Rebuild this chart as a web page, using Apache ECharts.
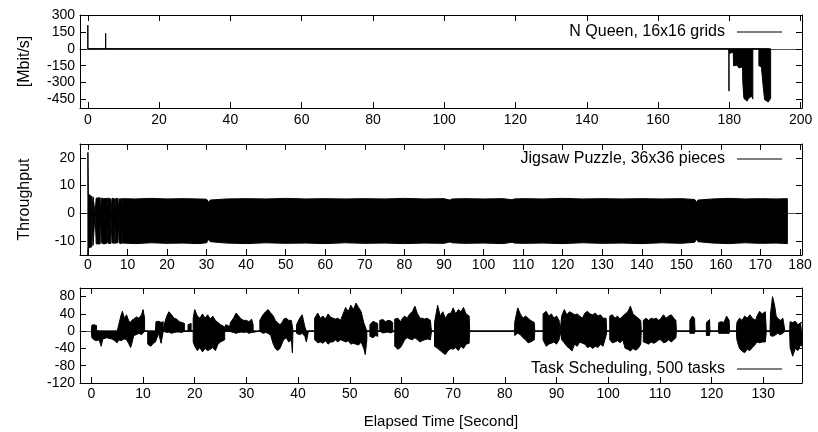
<!DOCTYPE html>
<html>
<head>
<meta charset="utf-8">
<script src="https://cdn.jsdelivr.net/npm/echarts@6/dist/echarts.min.js"></script>
<style>
  html, body { margin: 0; padding: 0; background: #fff; }
  #chart { width: 818px; height: 432px; }
</style>
</head>
<body>
<div id="chart"></div>
<script>
// envelope of each trace: [time (s), upper value, lower value]
var nQueenEnv = [
  [0, 0, 0], [0, 210, 0], [0, 0, 0],
  [5, 0, 0], [5, 137, 0], [5, 0, 0],
  [179.9, 0, 0], [179.9, 0, -375], [179.9, 0, 0],
  [180.1, 0, 0], [180.1, 0, -40], [180.6, 0, -55], [181.1, 0, -30],
  [181.2, 0, -150], [181.7, 0, -165], [182.2, 0, -145], [182.7, 0, -170], [183.2, 0, -175], [183.7, 0, -160],
  [183.8, 0, -300], [184.1, 0, -440], [184.6, 0, -455], [185.0, 0, -464], [185.4, 0, -440], [185.9, 0, -430],
  [186.3, 0, -420], [186.6, 0, -445], [186.6, 0, 0],
  [188.3, 0, 0], [188.3, 0, -150], [188.7, 0, -165], [189.0, 0, -160], [189.3, 0, -175],
  [189.5, 0, -330], [189.9, 0, -450], [190.4, 0, -465], [190.9, 0, -472], [191.3, 0, -460], [191.6, 0, -440], [191.6, 0, 0]
];

var jigsawEnv = [
  [0, 0, 0], [0, 22, -15], [0.1, 7, -12.5], [0.5, 6.5, -13], [1.0, 6, -12], [1.0, 0, 0],
  [1.3, 0, 0], [1.3, 6, -11.5], [1.8, 5.5, -11], [1.8, 0, 0],
  [2.1, 0, 0], [2.1, 5.5, -11], [2.6, 5.3, -10.8], [3.1, 5.6, -11], [3.1, 0, 0],
  [3.4, 0, 0], [3.4, 5.5, -10.6], [4.0, 5.3, -11], [4.7, 5.4, -10.8], [4.7, 0, 0],
  [5.0, 0, 0], [5.0, 5.5, -10.7], [5.8, 5.2, -10.9], [5.8, 0, 0],
  [6.1, 0, 0], [6.1, 5.4, -10.6], [6.7, 5.3, -10.8], [6.7, 0, 0],
  [7.0, 0, 0], [7.0, 5.3, -10.8], [7.6, 5.4, -10.5], [7.6, 0, 0],
  [7.9, 0, 0], [7.9, 5.2, -10.7], [8.5, 5.3, -10.9], [8.5, 0, 0],
  [8.7, 0, 0], [8.7, 5.3, -10.7], [12, 5.2, -10.9], [16, 5.4, -10.6], [20, 5.2, -10.8], [24, 5.3, -10.7], [28, 5.2, -10.9],
  [30.0, 5.1, -10.6], [30.5, 4.0, -9.3], [30.9, 4.8, -10.2], [31.2, 5.3, -10.8],
  [35, 5.2, -10.7], [40, 5.3, -10.9], [45, 5.2, -10.6], [50, 5.4, -10.8], [55, 5.2, -10.7], [60, 5.3, -10.9],
  [65, 5.2, -10.6], [70, 5.3, -10.8], [75, 5.2, -10.7], [80, 5.4, -10.9], [85, 5.2, -10.7], [90, 5.3, -10.8],
  [91.5, 4.8, -10.3], [91.8, 4.4, -9.8], [92.1, 5.2, -10.6],
  [95, 5.3, -10.8], [100, 5.2, -10.7], [105, 5.3, -10.9],
  [107.2, 4.9, -10.4], [107.5, 4.5, -10], [107.8, 5.2, -10.7],
  [110, 5.3, -10.8], [115, 5.2, -10.7], [120, 5.4, -10.9], [125, 5.2, -10.6], [130, 5.3, -10.8], [135, 5.2, -10.7],
  [140, 5.3, -10.9], [145, 5.2, -10.6], [150, 5.3, -10.8],
  [153.4, 5.0, -10.4], [153.8, 4.0, -9.3], [154.2, 4.8, -10.2], [154.6, 5.3, -10.8],
  [158, 5.2, -10.7], [162, 5.4, -10.9], [166, 5.2, -10.6], [170, 5.3, -10.8], [174, 5.2, -10.7], [176.8, 5.3, -10.9], [176.8, 0, 0]
];

var taskEnv = [
  [0, 0, 0],
  [0.1, 0, 0], [0.1, 14, -15], [0.5, 15, -20], [1.0, 13, -22],
  [1.0, 2, -22], [1.5, 0, -20], [1.9, 0, -35], [2.2, 0, -18], [3.0, 0, -15], [3.5, 0, -17], [4.0, 0, -18], [4.5, 0, -22], [5.0, 0, -27],
  [5.3, 15, -20], [5.7, 35, -22], [6.0, 46, -20], [6.4, 30, -18], [6.8, 38, -20], [7.2, 25, -28], [7.6, 20, -38],
  [7.8, 25, -30], [8.2, 28, -10], [8.7, 33, -8], [9.2, 30, -5], [9.7, 38, -8], [10.0, 50, -5], [10.3, 30, 0], [10.3, 0, 0],
  [10.9, 0, 0], [10.9, 0, -30], [11.5, 0, -35], [12.0, 0, -28], [12.4, 0, -25],
  [12.5, 22, -25], [13.0, 23, -5], [13.5, 20, -28], [13.9, 22, 0], [13.9, 0, 0],
  [14.2, 0, 0], [14.2, 20, 0], [14.6, 35, -3], [15.0, 45, -2], [15.5, 38, -5], [16.0, 30, -3], [16.5, 28, -2], [17.0, 22, -2], [17.5, 20, -3], [18.0, 18, 0], [18.0, 0, 0],
  [18.7, 0, 0], [18.7, 15, 0], [19.3, 18, 0], [19.3, 0, 0],
  [19.7, 0, 0], [19.7, 30, -25], [20.0, 50, -35], [20.5, 35, -45], [21.0, 30, -38], [21.5, 40, -48], [22.0, 30, -40], [22.5, 38, -45],
  [23.0, 28, -42], [23.5, 35, -38], [24.0, 25, -45], [24.5, 20, -30], [25.0, 15, -25], [25.8, 10, -20], [25.8, 0, 0],
  [26.0, 0, 0], [26.0, 15, 0], [26.6, 12, 0], [26.6, 0, 0],
  [26.9, 0, 0], [26.9, 20, 0], [27.5, 30, -3], [28.0, 42, -5], [28.5, 35, -3], [29.0, 28, -2], [29.5, 25, -3], [30.0, 25, -2], [30.5, 22, -5], [31.0, 28, -3], [31.3, 15, -5], [31.3, 0, 0],
  [32.6, 0, 0], [32.6, 25, -3], [33.2, 38, -5], [33.7, 45, -3], [34.2, 50, -5], [34.7, 42, -10], [35.2, 35, -30],
  [35.6, 25, -40], [36.0, 20, -45], [36.5, 15, -40], [37.0, 22, -25],
  [37.2, 28, -20], [37.7, 30, -15], [38.2, 25, -25], [38.7, 25, -20], [38.9, 10, -50], [39.0, 0, 0],
  [39.7, 0, 0], [39.7, 15, -5], [40.3, 30, -8], [40.8, 38, -5], [41.3, 10, -12], [41.6, 0, -25], [42.0, 0, 0],
  [43.2, 0, 0], [43.2, 30, -20], [43.8, 42, -27], [44.3, 30, -25], [44.8, 35, -28], [45.3, 28, -22], [45.8, 40, -30], [46.3, 32, -25], [46.8, 30, -25],
  [47.2, 28, -20], [47.7, 30, -25], [48.2, 25, -20], [48.7, 40, -22], [49.2, 55, -25], [49.7, 45, -22],
  [50.2, 60, -30], [50.7, 50, -28], [51.2, 65, -30], [51.7, 55, -32], [52.2, 45, -25], [52.7, 20, -40], [53.0, 10, -54], [53.3, 0, -20], [53.3, 0, 0],
  [53.9, 0, 0], [53.9, 15, -12], [54.5, 23, -15], [55.0, 20, -10], [55.4, 18, -12], [55.4, 0, 0],
  [55.8, 0, 0], [55.8, 25, -2], [56.4, 27, -4], [56.9, 22, -3], [57.4, 25, -2], [57.9, 24, -4], [58.3, 20, -2], [58.3, 0, 0],
  [58.7, 0, 0], [58.7, 28, -35], [59.3, 30, -42], [59.8, 22, -38], [60.2, 30, -30],
  [60.6, 35, -20], [61.1, 30, -15], [61.6, 40, -18], [62.1, 45, -20], [62.6, 58, -15], [63.1, 40, -20], [63.6, 30, -25],
  [64.0, 30, -22], [64.5, 28, -20], [65.0, 30, -18], [65.6, 25, -20], [65.8, 0, 0],
  [66.4, 0, 0], [66.4, 20, -35], [67.0, 60, -40], [67.5, 35, -45], [68.0, 45, -50], [68.5, 30, -54], [69.0, 40, -45], [69.6, 42, -40],
  [70.0, 54, -42], [70.5, 40, -38], [71.0, 50, -45], [71.5, 45, -35], [72.0, 55, -40], [72.5, 40, -30], [73.1, 35, -28], [73.2, 0, 0],
  [81.9, 0, 0], [81.9, 20, -10], [82.5, 54, -5], [83.0, 40, -8], [83.5, 30, -15], [84.0, 35, -20], [84.5, 30, -27], [85.0, 25, -25], [85.7, 20, -20], [85.8, 0, 0],
  [87.4, 0, 0], [87.4, 40, -20], [88.0, 46, -35], [88.5, 35, -30], [89.0, 40, -28], [89.5, 30, -25], [90.0, 35, -30], [90.5, 25, -20], [90.7, 0, 0],
  [91.0, 0, 0], [91.0, 35, -20], [91.5, 50, -27], [92.0, 38, -35], [92.5, 45, -40], [93.0, 42, -46], [93.5, 38, -30], [94.0, 40, -35], [94.5, 35, -25], [95.0, 30, -28], [95.5, 42, -30],
  [96.0, 46, -38], [96.5, 40, -35], [97.0, 38, -40], [97.5, 42, -35], [98.0, 35, -38], [98.5, 38, -30], [99.0, 30, -35], [99.6, 30, -10], [99.7, 0, 0],
  [100.3, 0, 0], [100.3, 35, -20], [100.8, 38, -27], [101.3, 30, -25], [101.8, 35, -22], [102.3, 28, -27], [102.8, 35, -20],
  [103.3, 40, -40], [103.8, 45, -42], [104.3, 58, -46], [104.8, 40, -40], [105.3, 35, -44], [105.8, 30, -40], [106.3, 25, -30], [106.4, 0, 0],
  [106.8, 0, 0], [106.8, 25, -25], [107.3, 30, -27], [107.8, 25, -30], [108.3, 30, -25], [108.8, 28, -28], [109.3, 30, -25], [109.8, 25, -20],
  [110.2, 30, -20], [110.7, 38, -27], [111.2, 30, -25], [111.7, 35, -20], [112.2, 38, -25], [112.7, 30, -20], [113.1, 25, -15], [113.2, 0, 0],
  [115.8, 0, 0], [115.8, 25, -5], [116.3, 35, -5], [116.7, 30, -5], [116.8, 0, 0],
  [119.0, 0, 0], [119.0, 20, -10], [119.6, 27, -10], [119.7, 0, 0],
  [121.3, 0, 0], [121.4, 20, -5], [121.9, 22, -5], [122.4, 20, -5], [122.9, 35, -5], [123.4, 25, -5], [123.5, 0, 0],
  [124.8, 0, 0], [124.9, 20, -20], [125.4, 30, -40], [125.9, 25, -46], [126.4, 35, -50], [126.9, 30, -42], [127.4, 38, -45], [127.9, 30, -38], [128.5, 25, -30],
  [128.8, 35, -25], [129.3, 46, -27], [129.8, 40, -25], [130.4, 45, -25], [130.6, 0, 0],
  [131.3, 0, 0], [131.4, 40, -10], [131.8, 80, -12], [132.2, 60, -10], [132.5, 35, -8],
  [132.8, 30, -5], [133.3, 25, -8], [133.8, 30, -5], [134.2, 0, 0],
  [135.1, 0, 0], [135.2, 22, -38], [135.7, 20, -58], [136.2, 23, -40], [136.7, 15, -45], [137.3, 20, -30], [137.5, 20, -35]
];

var nQueenXTicks = [0, 20, 40, 60, 80, 100, 120, 140, 160, 180, 200];
var nQueenYTicks = [-450, -300, -150, 0, 150, 300];
var jigsawXTicks = [0, 10, 20, 30, 40, 50, 60, 70, 80, 90, 100, 110, 120, 130, 140, 150, 160, 170, 180];
var jigsawYTicks = [-10, 0, 10, 20];
var taskXTicks = [0, 10, 20, 30, 40, 50, 60, 70, 80, 90, 100, 110, 120, 130];
var taskYTicks = [-120, -80, -40, 0, 40, 80];

var font = '"Liberation Sans", Arial, Helvetica, sans-serif';

var panels = [
  { name: 'N Queen, 16x16 grids', env: nQueenEnv, top: 15, height: 93,
    xMin: -2.2, xMax: 200.4, xTicks: nQueenXTicks, yMin: -525, yMax: 300, yTicks: nQueenYTicks,
    yName: '[Mbit/s]', legendTop: 24, labelMargin: 5 },
  { name: 'Jigsaw Puzzle, 36x36 pieces', env: jigsawEnv, top: 144, height: 111,
    xMin: -2, xMax: 180.5, xTicks: jigsawXTicks, yMin: -15, yMax: 25, yTicks: jigsawYTicks,
    yName: 'Throughput', legendTop: 151, labelMargin: 3 },
  { name: 'Task Scheduling, 500 tasks', env: taskEnv, top: 288, height: 95,
    xMin: -2.2, xMax: 137.5, xTicks: taskXTicks, yMin: -120, yMax: 100, yTicks: taskYTicks,
    yName: '', legendTop: 361, labelMargin: 4, xName: 'Elapsed Time [Second]' }
];

var black = {color: '#000', width: 1};
var grids = [], xAxes = [], yAxes = [], series = [], legends = [];

panels.forEach(function (p, i) {
  grids.push({left: 80, right: 16, top: p.top, height: p.height, show: false, outerBoundsMode: 'none'});

  ['bottom', 'top'].forEach(function (pos) {
    xAxes.push({
      type: 'value', gridIndex: i, position: pos, min: p.xMin, max: p.xMax,
      name: pos === 'bottom' && p.xName ? p.xName : '',
      nameLocation: 'middle', nameGap: 31,
      nameTextStyle: {color: '#000', fontSize: 15, fontFamily: font},
      axisLine: {show: true, onZero: false, lineStyle: black},
      axisTick: {show: true, inside: true, length: 6, customValues: p.xTicks, lineStyle: black},
      axisLabel: {show: pos === 'bottom', customValues: p.xTicks, margin: p.labelMargin,
        color: '#000', fontSize: 14, fontFamily: font},
      splitLine: {show: false}
    });
  });
  // zero line across the panel
  xAxes.push({
    type: 'value', gridIndex: i, min: p.xMin, max: p.xMax,
    axisLine: {show: true, onZero: true, lineStyle: {color: '#555', width: 1}},
    axisTick: {show: false}, axisLabel: {show: false}, splitLine: {show: false}
  });

  ['left', 'right'].forEach(function (pos) {
    yAxes.push({
      type: 'value', gridIndex: i, position: pos, min: p.yMin, max: p.yMax,
      name: pos === 'left' ? p.yName : '',
      nameLocation: 'middle', nameGap: 47, nameRotate: 90,
      nameTextStyle: {color: '#000', fontSize: 16, fontFamily: font},
      axisLine: {show: true, onZero: false, lineStyle: black},
      axisTick: {show: true, inside: true, length: 6, customValues: p.yTicks, lineStyle: black},
      axisLabel: {show: pos === 'left', customValues: p.yTicks, margin: 5,
        color: '#000', fontSize: 14, fontFamily: font},
      splitLine: {show: false}
    });
  });

  // upper edge filled down to zero, lower edge filled up to just above zero
  // (a hair of overlap so no light seam shows along the zero line)
  var overlap = 0.6 * (p.yMax - p.yMin) / p.height;
  var common = {
    type: 'line', xAxisIndex: 3 * i, yAxisIndex: 2 * i,
    symbol: 'none', showSymbol: false, animation: false, silent: true,
    lineStyle: {color: '#000', width: 1},
    itemStyle: {color: '#000'}
  };
  series.push(Object.assign({}, common, {
    name: p.name,
    areaStyle: {color: '#000', opacity: 1, origin: 'auto'},
    data: p.env.map(function (r) { return [r[0], r[1]]; })
  }));
  series.push(Object.assign({}, common, {
    name: p.name + ' (low)',
    areaStyle: {color: '#000', opacity: 1, origin: overlap},
    data: p.env.map(function (r) { return [r[0], r[2]]; })
  }));

  legends.push({
    top: p.legendTop, right: 36, padding: 0, align: 'right',
    icon: 'rect', itemWidth: 45, itemHeight: 1, itemGap: 0,
    selectedMode: false, data: [p.name],
    textStyle: {color: '#000', fontSize: 16, fontFamily: font, padding: [0, 7, 0, 0]}
  });
});

var chart = echarts.init(document.getElementById('chart'), null, {renderer: 'canvas'});
chart.setOption({
  animation: false,
  backgroundColor: '#fff',
  color: ['#000'],
  grid: grids,
  xAxis: xAxes,
  yAxis: yAxes,
  legend: legends,
  series: series
});
</script>
</body>
</html>
